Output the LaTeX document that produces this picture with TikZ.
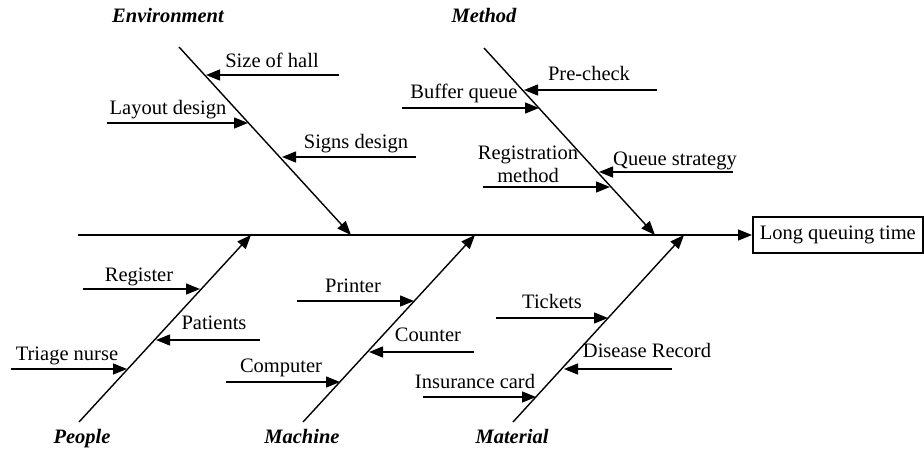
\documentclass[tikz,border=0pt]{standalone}
\usepackage{fontspec}
\setmainfont{Liberation Serif}
\usetikzlibrary{arrows.meta}
\begin{document}
\begin{tikzpicture}[x=1pt,y=-1pt,
  line/.style={line width=1.4pt, black},
  arr/.style={line, -{Triangle[length=14pt,width=11pt]}},
  lbl/.style={inner sep=0pt, anchor=base, font=\fontsize{20.5}{23}\selectfont},
  cat/.style={lbl, font=\fontsize{20.5}{23}\selectfont\bfseries\itshape},
  effectbox/.style={draw, line width=1.6pt, minimum width=170pt, minimum height=36pt, anchor=west, inner sep=0pt, font=\fontsize{20.5}{23}\selectfont}
]
\useasboundingbox (0,0) rectangle (924,449);

% spine
\coordinate (tail) at (78,235);
\node[effectbox] (effect) at (752,235) {Long queuing time};
\draw[arr] (tail) -- (effect.west);

% main bones
\coordinate (envS) at (179,47);   \coordinate (envE) at (351,235);
\coordinate (metS) at (484,48);   \coordinate (metE) at (655,235);
\coordinate (peoS) at (79,422);   \coordinate (peoE) at (251,235);
\coordinate (macS) at (303,422);  \coordinate (macE) at (475,235);
\coordinate (matS) at (513,422);  \coordinate (matE) at (684,235);
\draw[arr] (envS) -- (envE);
\draw[arr] (metS) -- (metE);
\draw[arr] (peoS) -- (peoE);
\draw[arr] (macS) -- (macE);
\draw[arr] (matS) -- (matE);

% category labels
\node[cat] (env) at (168,23) {Environment};
\node[cat] (met) at (484,23) {Method};
\node[cat] (peo) at (82,443) {People};
\node[cat] (mac) at (302,443) {Machine};
\node[cat] (mat) at (512,443) {Material};

% Environment causes
\node[lbl] (size) at (272,68) {Size of hall};
\coordinate (sizeA) at (339,75); \coordinate (sizeB) at (206,75);
\draw[arr] (sizeA) -- (sizeB);
\node[lbl] (layout) at (168,115) {Layout design};
\coordinate (layoutA) at (107,123); \coordinate (layoutB) at (248,123);
\draw[arr] (layoutA) -- (layoutB);
\node[lbl] (signs) at (356,149) {Signs design};
\coordinate (signsA) at (416,157); \coordinate (signsB) at (282,157);
\draw[arr] (signsA) -- (signsB);

% Method causes
\node[lbl] (pre) at (589,81) {Pre-check};
\coordinate (preA) at (657,90); \coordinate (preB) at (524,90);
\draw[arr] (preA) -- (preB);
\node[lbl] (buffer) at (464,99) {Buffer queue};
\coordinate (bufferA) at (402,108); \coordinate (bufferB) at (539,108);
\draw[arr] (bufferA) -- (bufferB);
\node[lbl, anchor=north, align=center] (reg) at (528,145.5) {Registration\\method};
\coordinate (regA) at (483,187); \coordinate (regB) at (610,187);
\draw[arr] (regA) -- (regB);
\node[lbl] (qs) at (675,166) {Queue strategy};
\coordinate (qsA) at (733,172); \coordinate (qsB) at (599,172);
\draw[arr] (qsA) -- (qsB);

% People causes
\node[lbl] (register) at (139,281) {Register};
\coordinate (registerA) at (83,289); \coordinate (registerB) at (200,289);
\draw[arr] (registerA) -- (registerB);
\node[lbl] (patients) at (214,329) {Patients};
\coordinate (patientsA) at (260,340); \coordinate (patientsB) at (156,340);
\draw[arr] (patientsA) -- (patientsB);
\node[lbl] (triage) at (67,360) {Triage nurse};
\coordinate (triageA) at (11,369); \coordinate (triageB) at (127,369);
\draw[arr] (triageA) -- (triageB);

% Machine causes
\node[lbl] (printer) at (353,293) {Printer};
\coordinate (printerA) at (297,301); \coordinate (printerB) at (414,301);
\draw[arr] (printerA) -- (printerB);
\node[lbl] (counter) at (428,341) {Counter};
\coordinate (counterA) at (474,352); \coordinate (counterB) at (369,352);
\draw[arr] (counterA) -- (counterB);
\node[lbl] (computer) at (281,372) {Computer};
\coordinate (computerA) at (226,382); \coordinate (computerB) at (340,382);
\draw[arr] (computerA) -- (computerB);

% Material causes
\node[lbl] (tickets) at (552,308) {Tickets};
\coordinate (ticketsA) at (496,318); \coordinate (ticketsB) at (608,318);
\draw[arr] (ticketsA) -- (ticketsB);
\node[lbl] (disease) at (647,357) {Disease Record};
\coordinate (diseaseA) at (672,369); \coordinate (diseaseB) at (564,369);
\draw[arr] (diseaseA) -- (diseaseB);
\node[lbl] (insurance) at (475,388) {Insurance card};
\coordinate (insuranceA) at (423,397); \coordinate (insuranceB) at (536,397);
\draw[arr] (insuranceA) -- (insuranceB);
\end{tikzpicture}
\end{document}
